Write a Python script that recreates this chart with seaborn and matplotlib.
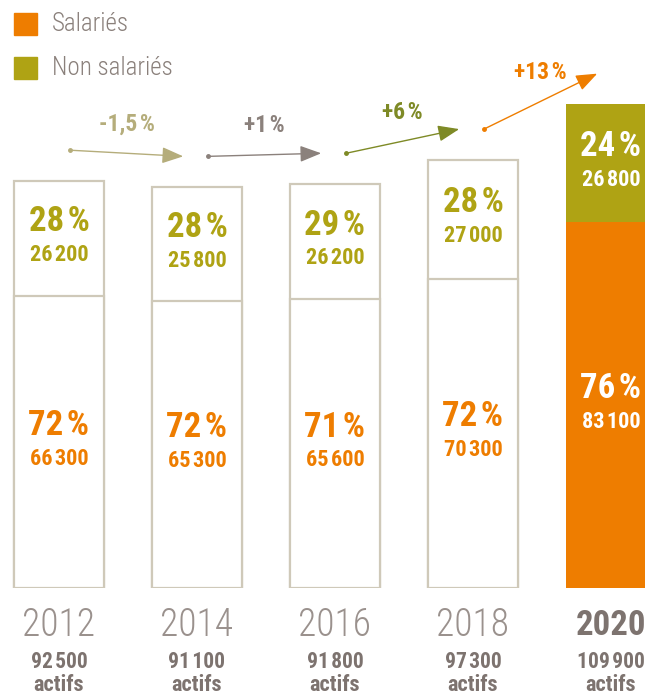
import matplotlib
matplotlib.use("Agg")
import matplotlib.pyplot as plt
from matplotlib import font_manager as fm
from matplotlib.patches import Rectangle
import pandas as pd
import seaborn as sns

# data
years = ["2012", "2014", "2016", "2018", "2020"]
salaries = [66300, 65300, 65600, 70300, 83100]
non_salaries = [26200, 25800, 26200, 27000, 26800]
totals = [92500, 91100, 91800, 97300, 109900]
pct_sal = ["72", "72", "71", "72", "76"]
pct_non = ["28", "28", "29", "28", "24"]
growth = ["-1,5\u200a%", "+1\u200a%", "+6\u200a%", "+13\u200a%"]

ORANGE = "#ee7d00"
OLIVE = "#afa314"
DARK_GREY = "#7d736f"
EDGE = "#cfc9b9"
growth_colors = ["#b5ad7b", "#8b817c", "#7e8a26", ORANGE]

sns.set_theme(style="white")
names = {f.name for f in fm.fontManager.ttflist}
narrow = "DejaVu Sans"
for cand in ["Liberation Sans Narrow", "Roboto Condensed", "Open Sans Condensed", "DejaVu Sans Condensed"]:
    if cand in names:
        narrow = cand
        break
FONT = [narrow, "DejaVu Sans"]
plt.rcParams["font.family"] = FONT


def fmt(v):
    return f"{v:,}".replace(",", "\u200a")


df = pd.DataFrame({"year": years, "total": totals, "sal": salaries})

fig = plt.figure(figsize=(6.45, 6.96), dpi=100)
ax = fig.add_axes([0, 108 / 696, 1, 588 / 696])

bw = 90 / 138
sns.barplot(data=df, x="year", y="total", hue="year", palette=["white"] * 4 + [OLIVE],
            width=bw, saturation=1, legend=False, ax=ax)
sns.barplot(data=df, x="year", y="sal", hue="year", palette=["white"] * 4 + [ORANGE],
            width=bw, saturation=1, legend=False, ax=ax)

for k, p in enumerate(ax.patches):
    if k % 5 < 4:
        p.set_edgecolor(EDGE)
        p.set_linewidth(1.6)
    else:
        p.set_edgecolor("none")

ax.set_xlim(-59 / 138, 586 / 138)
ax.set_ylim(0, 588 / 4.4 * 1000)
ax.axis("off")

# labels inside bars
for i in range(5):
    last = i == 4
    c_non = "white" if last else OLIVE
    c_sal = "white" if last else ORANGE
    y_non = salaries[i] + non_salaries[i] / 2
    y_sal = salaries[i] / 2
    for y, pct, val, c in [(y_non, pct_non[i], non_salaries[i], c_non),
                           (y_sal, pct_sal[i], salaries[i], c_sal)]:
        ax.annotate(pct + "\u200a%", (i, y), xytext=(0, 12), textcoords="offset points",
                    ha="center", va="center", fontsize=25, fontweight="bold", color=c)
        ax.annotate(fmt(val), (i, y), xytext=(0, -12), textcoords="offset points",
                    ha="center", va="center", fontsize=16, fontweight="bold", color=c)

# year labels under bars
for i in range(5):
    last = i == 4
    ax.annotate(years[i], (i, 0), xytext=(0, -27), textcoords="offset points",
                ha="center", va="center", fontsize=25 if last else 27,
                fontweight="bold" if last else "light",
                color=DARK_GREY if last else "#9a918d", annotation_clip=False)
    ax.annotate(fmt(totals[i]), (i, 0), xytext=(0, -53), textcoords="offset points",
                ha="center", va="center", fontsize=15.5, fontweight="bold",
                color=DARK_GREY, annotation_clip=False)
    ax.annotate("actifs", (i, 0), xytext=(0, -70), textcoords="offset points",
                ha="center", va="center", fontsize=16, fontweight="bold",
                color=DARK_GREY, annotation_clip=False)

# growth arrows
for i in range(4):
    c = growth_colors[i]
    x0, x1 = i + 0.08, i + 0.9
    y0, y1 = totals[i] + 7000, totals[i + 1] + 7000
    ax.annotate("", xy=(x1, y1), xytext=(x0, y0),
                arrowprops=dict(arrowstyle="-|>,head_length=0.65,head_width=0.25",
                                color=c, lw=1, shrinkA=0, shrinkB=0, mutation_scale=20))
    ax.plot([x0], [y0], "o", ms=2.5, color=c, clip_on=False)
    ax.annotate(growth[i], ((x0 + x1) / 2, (y0 + y1) / 2), xytext=(0, 21),
                textcoords="offset points", ha="center", va="center",
                fontsize=17, fontweight="bold", color=c, annotation_clip=False)

# legend
for (lab, col, y) in [("Salariés", ORANGE, 24), ("Non salariés", OLIVE, 68)]:
    fig.add_artist(Rectangle((14 / 645, 1 - (y + 11) / 696), 23 / 645, 22 / 696,
                             transform=fig.transFigure, color=col))
    fig.text(52 / 645, 1 - y / 696, lab, ha="left", va="center", fontsize=18,
             fontweight="light", color="#8a807b")

fig.savefig("out.png", dpi=100)
